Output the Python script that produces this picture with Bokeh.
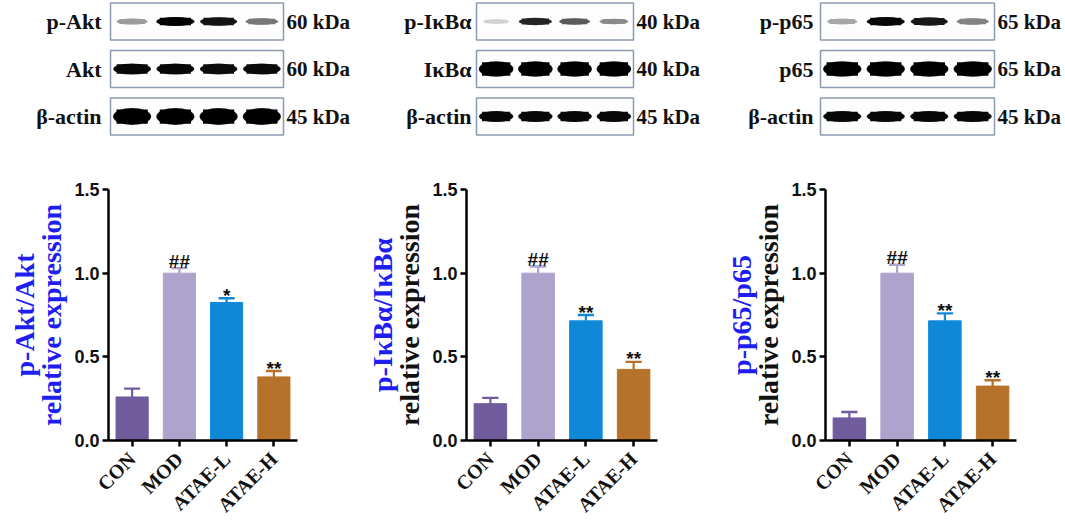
import math
from bokeh.plotting import figure
from bokeh.models import Range1d, FactorRange, LinearAxis, FixedTicker, PrintfTickFormatter
from bokeh.layouts import column, row
from bokeh.embed import file_html
from bokeh.resources import INLINE
from bokeh.core.properties import value

# ---------------- data ----------------
groups = ["CON", "MOD", "ATAE-L", "ATAE-H"]
bar_colors = ["#705b9c", "#aea3cd", "#0f88d8", "#b6722a"]
y_ticks = [0.0, 0.5, 1.0, 1.5]

akt_mean = [0.26, 1.0, 0.825, 0.38]
akt_err = [0.05, 0.03, 0.025, 0.035]
akt_sig = ["", "##", "*", "**"]

ikb_mean = [0.22, 1.0, 0.715, 0.425]
ikb_err = [0.035, 0.04, 0.035, 0.045]
ikb_sig = ["", "##", "**", "**"]

p65_mean = [0.135, 1.0, 0.715, 0.325]
p65_err = [0.035, 0.05, 0.045, 0.035]
p65_sig = ["", "##", "**", "**"]

# western blot rows, size markers and band intensities (lanes CON, MOD, ATAE-L, ATAE-H)
blot1_rows = ["p-Akt", "Akt", "β-actin"]
blot1_kda = ["60 kDa", "60 kDa", "45 kDa"]
blot1_int = [[0.35, 1.0, 0.92, 0.5],
             [0.97, 0.97, 0.95, 0.96],
             [1.0, 1.0, 1.0, 1.0]]

blot2_rows = ["p-IκBα", "IκBα", "β-actin"]
blot2_kda = ["40 kDa", "40 kDa", "45 kDa"]
blot2_int = [[0.12, 0.85, 0.62, 0.42],
             [1.0, 1.0, 1.0, 1.0],
             [0.97, 0.97, 0.97, 0.97]]

blot3_rows = ["p-p65", "p65", "β-actin"]
blot3_kda = ["65 kDa", "65 kDa", "45 kDa"]
blot3_int = [[0.3, 0.97, 0.9, 0.45],
             [1.0, 1.0, 1.0, 1.0],
             [0.97, 0.97, 0.97, 0.97]]

# ---------------- layout constants ----------------
COL_W = [360, 360, 345]
TOP_H = 150
BOT_H = 377
SERIF = "Liberation Serif"
SANS = "Liberation Sans"
BLUE = "#1e1ef0"

ROW_PX = 47.5
ROW0_PX = 21.0


def gray(i):
    g = int(round(238 * (1 - i)))
    return "#%02x%02x%02x" % (g, g, g)


def blot_panel(width, box_left, box_right, rows, kda, inten, band_h_px, label_gap):
    lane_px = (box_right - box_left) / 4.0
    xs = -0.5 - box_left / lane_px
    xe = xs + width / lane_px
    ytop = -ROW0_PX / ROW_PX
    ybot = ytop + TOP_H / ROW_PX
    p = figure(width=width, height=TOP_H, x_range=Range1d(xs, xe), y_range=Range1d(ybot, ytop),
               output_backend="svg", toolbar_location=None, x_axis_type=None, y_axis_type=None,
               min_border=0)
    p.outline_line_color = None
    p.xgrid.visible = False
    p.ygrid.visible = False
    ry = list(range(len(rows)))
    p.rect(x=[1.5] * len(rows), y=ry, width=4, height=0.78, fill_color="#fdfdfd",
           line_color="#8e9ab2", line_width=1.5)
    for r in ry:
        for lane in range(4):
            i = inten[r][lane]
            w = 0.6 + 0.24 * i
            h = band_h_px[r] / ROW_PX * (0.5 + 0.5 * i)
            halo = gray(i * 0.9)
            core = gray(i)
            p.ellipse(x=lane, y=r, width=w * 1.05, height=h * 1.12, fill_color=halo, line_color=None)
            p.ellipse(x=lane, y=r, width=w, height=h, fill_color=core, line_color=None)
            p.rect(x=lane, y=r, width=w * 0.86, height=h * 0.95, fill_color=core, line_color=None)
    p.text(x=[-0.5] * len(rows), y=ry, text=rows, x_offset=-label_gap, text_align="right",
           text_baseline="middle", text_font=value(SERIF), text_font_style="bold",
           text_font_size="22px", text_color="#111111")
    p.text(x=[3.5] * len(rows), y=ry, text=kda, x_offset=3, text_align="left",
           text_baseline="middle", text_font=value(SERIF), text_font_style="bold",
           text_font_size="21px", text_color="#111111")
    return p


def bar_chart(width, left, fw, mean, err, sig, line1, line2_color):
    upper = [m + e for m, e in zip(mean, err)]
    top, fh = 39, 251
    p = figure(width=width, height=BOT_H, x_range=FactorRange(*groups), y_range=Range1d(0, 1.5),
               output_backend="svg", toolbar_location=None,
               min_border_left=left, min_border_right=width - left - fw,
               min_border_top=top, min_border_bottom=BOT_H - top - fh)
    p.outline_line_color = None
    p.xgrid.visible = False
    p.ygrid.visible = False
    p.vbar(x=groups, top=mean, width=0.68, fill_color=bar_colors, line_color=bar_colors, line_width=1)
    p.segment(x0=groups, y0=mean, x1=groups, y1=upper, line_color=bar_colors, line_width=2.2)
    p.rect(x=groups, y=upper, width=0.34, height=2.4, height_units="screen",
           fill_color=bar_colors, line_color=None)
    offs = [-7 if s.startswith("#") else -3 for s in sig]
    p.text(x=groups, y=upper, text=sig, y_offset=offs, text_align="center",
           text_baseline="alphabetic", text_font=value(SANS), text_font_style="bold",
           text_font_size="19px", text_color="#111111")

    ya = p.yaxis[0]
    ya.ticker = FixedTicker(ticks=y_ticks)
    ya.formatter = PrintfTickFormatter(format="%.1f")
    ya.axis_line_width = 2.5
    ya.major_tick_line_width = 2.5
    ya.major_tick_out = 6
    ya.major_tick_in = 0
    ya.minor_tick_line_color = None
    ya.major_label_text_font = SANS
    ya.major_label_text_font_style = "bold"
    ya.major_label_text_font_size = "18px"
    ya.major_label_text_color = "#111111"
    ya.major_label_standoff = 3
    ya.axis_label = "relative expression"
    ya.axis_label_text_font = SERIF
    ya.axis_label_text_font_style = "bold"
    ya.axis_label_text_font_size = "28px"
    ya.axis_label_text_color = line2_color
    ya.axis_label_standoff = 4

    outer = LinearAxis(ticker=FixedTicker(ticks=[]), axis_line_color=None,
                       major_tick_line_color=None, minor_tick_line_color=None,
                       axis_label=line1, axis_label_text_font=SERIF,
                       axis_label_text_font_style="bold", axis_label_text_font_size="28px",
                       axis_label_text_color=BLUE, axis_label_standoff=-6)
    p.add_layout(outer, "left")

    xa = p.xaxis[0]
    xa.axis_line_width = 2.5
    xa.major_tick_line_width = 2.5
    xa.major_tick_out = 6
    xa.major_tick_in = 0
    xa.minor_tick_line_color = None
    xa.major_label_orientation = math.pi / 4
    xa.major_label_text_font = SERIF
    xa.major_label_text_font_style = "bold"
    xa.major_label_text_font_size = "20px"
    xa.major_label_text_color = "#111111"
    xa.major_label_standoff = 9
    return p


b1 = blot_panel(COL_W[0], 110, 283, blot1_rows, blot1_kda, blot1_int, [8, 10, 15], 9)
b2 = blot_panel(COL_W[1], 116, 273, blot2_rows, blot2_kda, blot2_int, [7, 14, 10], 5)
b3 = blot_panel(COL_W[2], 100, 274, blot3_rows, blot3_kda, blot3_int, [8, 14, 10], 7)

c1 = bar_chart(COL_W[0], 108, 189, akt_mean, akt_err, akt_sig, "p-Akt/Akt", BLUE)
c2 = bar_chart(COL_W[1], 106, 191, ikb_mean, ikb_err, ikb_sig, "p-IκBα/IκBα", "#111111")
c3 = bar_chart(COL_W[2], 105, 191, p65_mean, p65_err, p65_sig, "p-p65/p65", "#111111")

layout = column(row(b1, b2, b3), row(c1, c2, c3))
open("out.html", "w").write(file_html(layout, INLINE))
